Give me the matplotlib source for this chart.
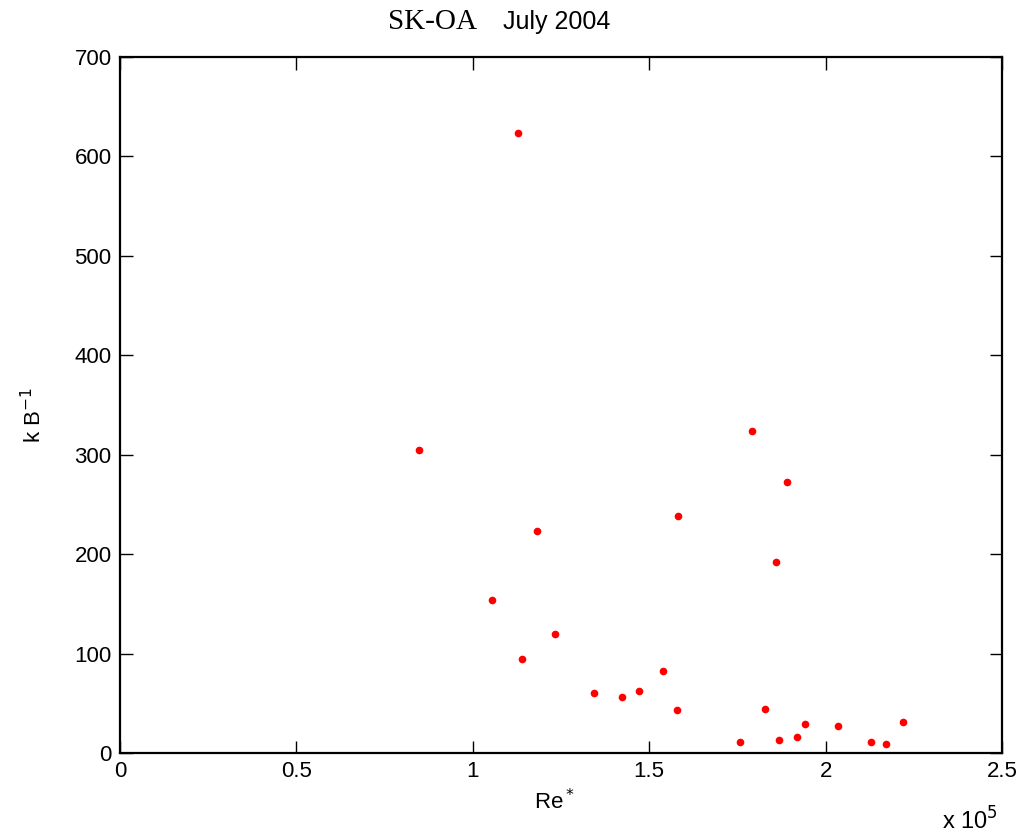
import matplotlib
matplotlib.use("Agg")
import matplotlib.pyplot as plt

re_star = [84750, 112800, 105400, 118200, 113900, 123300, 134400, 142300, 147100,
           153900, 158200, 157900, 175700, 179100, 185900, 186800, 189100, 182800,
           191900, 194200, 203500, 212900, 217100, 221900]
kb_inv = [304.7, 623.5, 153.9, 223.3, 94.5, 119.7, 60.3, 56.3, 62.4,
          82.5, 238.4, 43.2, 11.1, 323.8, 192.1, 13.1, 272.6, 44.3,
          16.1, 29.2, 27.2, 11.1, 9.1, 31.2]
x_ticks = [0, 50000, 100000, 150000, 200000, 250000]
x_tick_labels = ["0", "0.5", "1", "1.5", "2", "2.5"]
y_ticks = [0, 100, 200, 300, 400, 500, 600, 700]

plt.rcParams['font.family'] = ['Liberation Sans', 'DejaVu Sans']

fig = plt.figure(figsize=(10.26, 8.36), dpi=100)
ax = fig.add_axes([120/1026, 1-753/836, (1002-120)/1026, (753-57)/836])

ax.plot(re_star, kb_inv, 'o', color='red', markersize=5.5, markeredgewidth=0)

ax.set_xlim(0, 250000)
ax.set_ylim(0, 700)
ax.set_xticks(x_ticks)
ax.set_xticklabels(x_tick_labels)
ax.set_yticks(y_ticks)
ax.tick_params(direction='in', top=True, right=True, length=9, width=1, labelsize=16, pad=6)
for s in ax.spines.values():
    s.set_linewidth(1.6)

ax.set_xlabel("Re$^*$", fontsize=16)
ax.xaxis.set_label_coords((555-120)/882, -(789-753)/696)
ax.set_ylabel("k B$^{-1}$", fontsize=16)
ax.yaxis.set_label_coords((46-120)/882, (753-415)/696)

fig.text(433/1026, 1-22/836, "SK-OA", family='Liberation Serif', fontsize=21,
         ha='center', va='center')
fig.text(557/1026, 1-22/836, "July 2004", fontsize=18, ha='center', va='center')
fig.text(970/1026, 1-821/836, "x 10$^5$", fontsize=17, ha='center', va='center')

fig.savefig("out.png", dpi=100)
